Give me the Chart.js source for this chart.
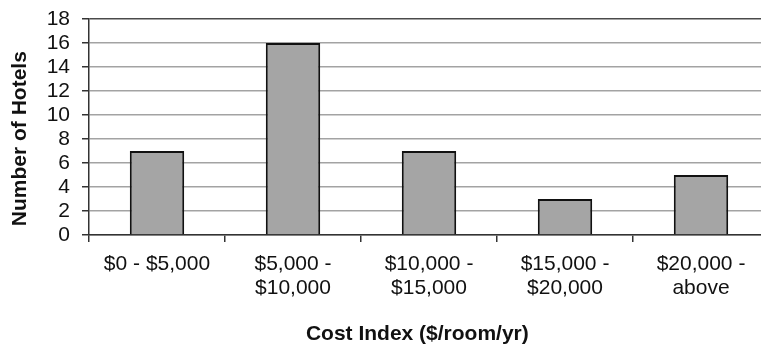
<!DOCTYPE html>
<html>
<head>
<meta charset="utf-8">
<script src="https://cdn.jsdelivr.net/npm/chart.js@4/dist/chart.umd.min.js"></script>
<style>
  html, body { margin: 0; padding: 0; background: #fff; overflow: hidden; }
  #wrap { width: 790px; height: 345px; position: relative; }
</style>
</head>
<body>
<div id="wrap"><canvas id="c"></canvas></div>
<script>
const categories = [
  ["$0 - $5,000"],
  ["$5,000 -", "$10,000"],
  ["$10,000 -", "$15,000"],
  ["$15,000 -", "$20,000"],
  ["$20,000 -", "above"]
];
const hotelCounts = [7, 16, 7, 3, 5];
const yTicks = [0, 2, 4, 6, 8, 10, 12, 14, 16, 18];
const yTitle = "Number of Hotels";
const xTitle = "Cost Index ($/room/yr)";

const FONT = "'Liberation Sans', Arial, Helvetica, sans-serif";

new Chart(document.getElementById('c'), {
  type: 'bar',
  data: {
    labels: categories,
    datasets: [{
      data: hotelCounts,
      backgroundColor: '#a5a5a5',
      borderColor: '#111',
      borderWidth: 2,
      barPercentage: 0.4,
      categoryPercentage: 1.0
    }]
  },
  options: {
    responsive: true,
    maintainAspectRatio: false,
    animation: false,
    layout: { padding: { top: 19, right: 21, left: 0, bottom: 0 } },
    plugins: { legend: { display: false }, tooltip: { enabled: false } },
    scales: {
      x: {
        offset: true,
        grid: { offset: true, drawOnChartArea: false, drawTicks: true, tickLength: 7, tickColor: '#333', lineWidth: 1.5 },
        border: { display: true, color: '#333', width: 1.5 },
        ticks: { color: '#111', padding: 10, maxRotation: 0, autoSkip: false, font: { family: FONT, size: 21, lineHeight: 1.15 } },
        title: { display: true, text: xTitle + '    ', color: '#111', font: { family: FONT, size: 21, weight: 'bold', lineHeight: 1.05 }, padding: { top: 0, bottom: 0 } },
        afterFit: (s) => { s.height = 110; s.paddingLeft = 0; s.paddingRight = 0; }
      },
      y: {
        min: 0,
        max: 18,
        afterBuildTicks: (s) => { s.ticks = yTicks.map(v => ({ value: v })); },
        grid: {
          color: (ctx) => (ctx.tick && ctx.tick.value === 18) ? '#4a4a4a' : '#a3a3a3',
          lineWidth: 1.5, drawTicks: true, tickLength: 7, tickColor: '#333'
        },
        border: { display: true, color: '#333', width: 1.5 },
        ticks: { color: '#111', padding: 12, autoSkip: false, stepSize: 2, font: { family: FONT, size: 21 } },
        title: { display: true, text: yTitle + '    ', color: '#111', font: { family: FONT, size: 21, weight: 'bold', lineHeight: 1.2 }, padding: { top: 8, bottom: 0 } },
        afterFit: (s) => { s.width = 89; s.paddingTop = 0; s.paddingBottom = 0; }
      }
    }
  }
});
</script>
</body>
</html>
